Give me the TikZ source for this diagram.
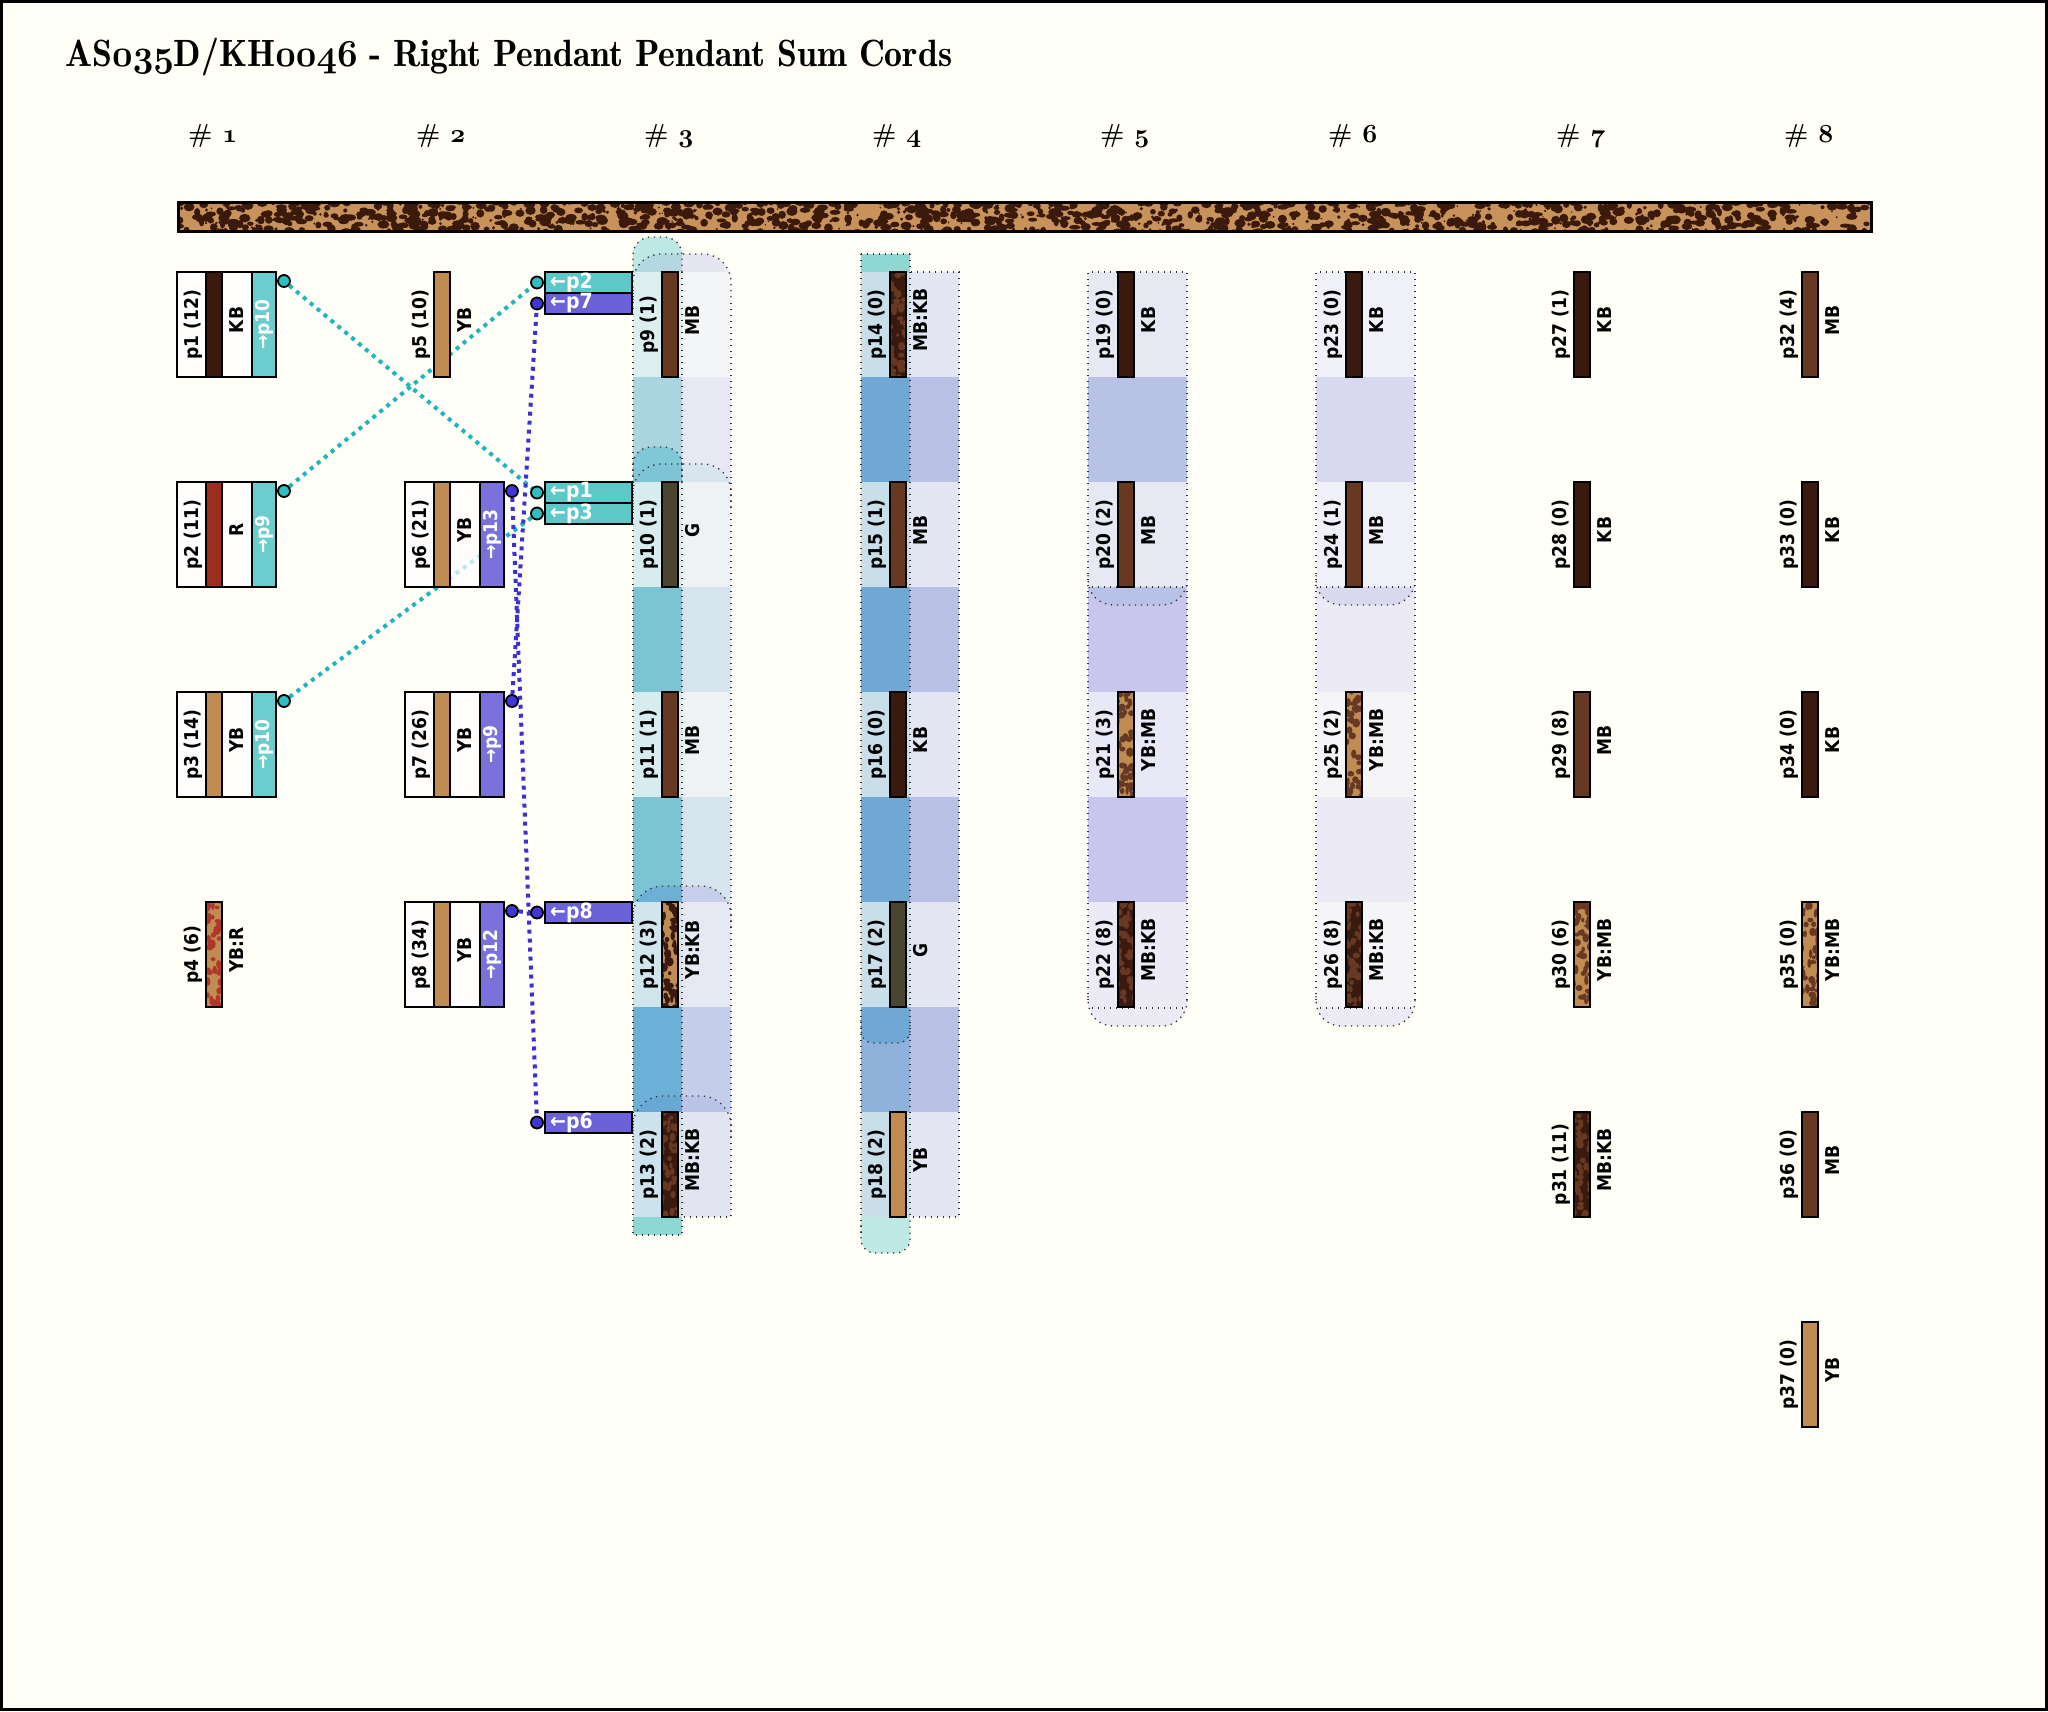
\documentclass[tikz,border=0pt]{standalone}
\usepackage{fontspec}
\usepackage{graphicx}
\newfontfamily\labfont{DejaVu Sans}[FakeStretch=0.9]
\newfontfamily\titlefont{lmromandemi10-regular.otf}
\DeclareFontFamily{OML}{osfm}{}
\DeclareFontShape{OML}{osfm}{m}{it}{<->cmmi10}{}
\DeclareFontShape{OML}{osfm}{b}{it}{<->cmmib10}{}
\newcommand\osn[1]{{\fontencoding{OML}\fontfamily{osfm}\fontseries{m}\fontshape{it}\selectfont #1}}
\newcommand\osb[1]{{\fontencoding{OML}\fontfamily{osfm}\fontseries{b}\fontshape{it}\selectfont #1}}
\pgfdeclarelayer{bg}
\pgfdeclarelayer{lines}
\pgfsetlayers{bg,lines,main}
\definecolor{bgc}{HTML}{FFFEF7}
\definecolor{KB}{HTML}{3A1A0F}
\definecolor{MB}{HTML}{673822}
\definecolor{YB}{HTML}{C08C52}
\definecolor{RR}{HTML}{9C2E20}
\definecolor{RS}{HTML}{B0362A}
\definecolor{GG}{HTML}{4A4530}
\definecolor{barbase}{HTML}{C8935A}
\definecolor{barspot}{HTML}{3C1A0B}
\definecolor{cyb}{HTML}{5CC8C8}
\definecolor{pub}{HTML}{6C62D8}
\definecolor{cyl}{HTML}{1FB5BE}
\definecolor{pul}{HTML}{3B2FD9}
\definecolor{cyd}{HTML}{2FBFC2}
\definecolor{pud}{HTML}{4035D5}
% column 3
\definecolor{c3L1}{HTML}{DDEEF0}\definecolor{c3R1}{HTML}{F4F5F6}
\definecolor{c3L2}{HTML}{D6ECEE}\definecolor{c3R2}{HTML}{EEF2F4}
\definecolor{c3L4}{HTML}{D0E6EC}\definecolor{c3R4}{HTML}{E6E8F4}
\definecolor{c3L5}{HTML}{CCE2EC}\definecolor{c3R5}{HTML}{E2E4F2}
\definecolor{c3gL1}{HTML}{AAD4E0}\definecolor{c3gR1}{HTML}{E8E8F4}
\definecolor{c3gL2}{HTML}{7CC4D4}\definecolor{c3gR2}{HTML}{D6E4EE}
\definecolor{c3gL4}{HTML}{6CB0D8}\definecolor{c3gR4}{HTML}{C4CEEA}
\definecolor{tealL}{HTML}{BDE8E4}\definecolor{tealD}{HTML}{8ED8D4}
\definecolor{c3capL1}{HTML}{B4D8E2}\definecolor{c3capR1}{HTML}{E6E6F2}
\definecolor{c3ncap2}{HTML}{80C8D8}
\definecolor{c3capL2}{HTML}{7EC4D6}\definecolor{c3capR2}{HTML}{D8E4EE}
\definecolor{c3capL4}{HTML}{6CB0D6}\definecolor{c3capR4}{HTML}{C6CEEC}
\definecolor{c3capL5}{HTML}{68A8D4}\definecolor{c3capR5}{HTML}{BAC4E8}
% column 4
\definecolor{c4L}{HTML}{C8DFEA}\definecolor{c4R}{HTML}{E4E6F4}
\definecolor{c4gL}{HTML}{6FA8D4}\definecolor{c4gR}{HTML}{B8C0E6}
\definecolor{c4gL4}{HTML}{8EB2DC}
% column 5
\definecolor{c5r1}{HTML}{E6E8F4}\definecolor{c5r3}{HTML}{E8E8F6}
\definecolor{c5r4}{HTML}{ECEAF7}\definecolor{c5g1}{HTML}{B8C2E6}
\definecolor{c5g2}{HTML}{C8C6EC}\definecolor{c5cap1}{HTML}{B8C1E7}
% column 6
\definecolor{c6r1}{HTML}{F0F0F8}\definecolor{c6r3}{HTML}{F5F5F8}
\definecolor{c6g1}{HTML}{D8D8EE}\definecolor{c6g2}{HTML}{ECEAF5}

\tikzset{
  cord/.style={rectangle, draw=black, line width=2pt, minimum width=16pt,
    minimum height=105pt, inner sep=0pt, outer sep=0pt},
  lab/.style={font={\labfont\bfseries\fontsize{19}{22}\selectfont}, inner sep=0pt, rotate=90},
  gdot/.style={draw=black!80, line width=1.3pt, dash pattern=on 1.3pt off 4.7pt},
  cyanlink/.style={draw=cyl, line width=4pt, dash pattern=on 4pt off 5pt},
  purplelink/.style={draw=pul, line width=4pt, dash pattern=on 4pt off 5pt},
  enddot/.style={circle, draw=black, line width=1.8pt, minimum size=12pt, inner sep=0pt},
  recvst/.style={rectangle, draw=black, line width=2pt, minimum width=87pt,
    minimum height=21pt, inner sep=0pt},
  recvtext/.style={font={\labfont\bfseries\fontsize{21}{24}\selectfont}, text=white,
    inner sep=0pt, anchor=west},
  frame/.style={rectangle, draw=black, line width=2.5pt, minimum width=99pt,
    minimum height=105pt, inner sep=0pt, outer sep=0pt, fill=white, fill opacity=0.7},
  hdr/.style={anchor=base west, inner sep=0pt, font={\bfseries\fontsize{26}{28}\selectfont}}
}

% plain pendant: name, cx, top, colour, label, colour label
\newcommand\pend[6]{%
  \node[cord, fill=#4] (#1) at (#2,{#3+52.5}) {};
  \node[lab] (#1l) at ({#2-21},{#3+52.5}) {#5};
  \node[lab] (#1c) at ({#2+23},{#3+48}) {#6};
}
% mottled pendant: name, cx, top, base, spot, seed, label, colour label
\newcommand\mpend[8]{%
  \node[cord, fill=#4, draw=none] (#1) at (#2,{#3+52.5}) {};
  \begin{scope}
    \clip ({#2-8},#3) rectangle ({#2+8},{#3+105});
    \pgfmathsetseed{#6}
    \foreach \i in {1,...,50}{
      \fill[#5] ({#2-10+20*rnd},{#3-2+109*rnd}) ellipse ({1.6+2.4*rnd} and {1.8+3*rnd});
    }
  \end{scope}
  \draw[line width=2pt] ({#2-8},#3) rectangle ({#2+8},{#3+105});
  \node[lab] (#1l) at ({#2-21},{#3+52.5}) {#7};
  \node[lab] (#1c) at ({#2+23},{#3+48}) {#8};
}
% pendant with sum box: name, cx, top, cord colour, label, colour label, box colour, sum text, dot colour
\newcommand\sumbox[9]{%
  \node[frame] (#1box) at ({#2+12.5},{#3+52.5}) {};
  \fill[#7, fill opacity=0.9] ({#2+38},#3) rectangle ({#2+62},{#3+105});
  \node[cord, fill=#4] (#1) at (#2,{#3+52.5}) {};
  \draw[line width=2pt] ({#2+38},#3) -- ({#2+38},{#3+105});
  \draw[line width=2.5pt] (#1box.south west) rectangle (#1box.north east);
  \node[lab] (#1l) at ({#2-21},{#3+52.5}) {#5};
  \node[lab] (#1c) at ({#2+23},{#3+48}) {#6};
  \node[lab, text=white] (#1s) at ({#2+50},{#3+52.5}) {#8};
  \node[enddot, fill=#9] (#1d) at ({#2+70},{#3+9}) {};
}
% receiving box: name, y centre, colour, text, dot colour
\newcommand\recvbox[5]{%
  \node[recvst, fill=#3] (#1) at (588.5,#2) {};
  \node[recvtext] (#1t) at (550,#2) {#4};
  \node[enddot, fill=#5] (#1d) at (537,#2) {};
}

\begin{document}
\begin{tikzpicture}[x=1pt,y=-1pt]
\useasboundingbox (0,0) rectangle (2048,1711);

\begin{pgfonlayer}{bg}
\fill[bgc] (0,0) rectangle (2048,1711);

% ---------- column 3 ----------
\fill[c3gL1] (633,377) rectangle (682,482); \fill[c3gR1] (682,377) rectangle (731,482);
\fill[c3gL2] (633,587) rectangle (682,692); \fill[c3gR2] (682,587) rectangle (731,692);
\fill[c3gL2] (633,797) rectangle (682,902); \fill[c3gR2] (682,797) rectangle (731,902);
\fill[c3gL4] (633,1007) rectangle (682,1112); \fill[c3gR4] (682,1007) rectangle (731,1112);
\fill[tealL, rounded corners=18pt] (633,280) -- (633,237) -- (682,237) -- (682,280);
\begin{scope}
  \clip[rounded corners=28pt] (633,300) -- (633,254) -- (731,254) -- (731,300);
  \fill[c3capL1] (633,250) rectangle (682,300); \fill[c3capR1] (682,250) rectangle (731,300);
\end{scope}
\fill[c3ncap2, rounded corners=18pt] (633,490) -- (633,447) -- (682,447) -- (682,490);
\begin{scope}
  \clip[rounded corners=28pt] (633,510) -- (633,464) -- (731,464) -- (731,510);
  \fill[c3capL2] (633,460) rectangle (682,510); \fill[c3capR2] (682,460) rectangle (731,510);
\end{scope}
\begin{scope}
  \clip[rounded corners=30pt] (633,930) -- (633,886) -- (731,886) -- (731,930);
  \fill[c3capL4] (633,880) rectangle (682,930); \fill[c3capR4] (682,880) rectangle (731,930);
\end{scope}
\begin{scope}
  \clip[rounded corners=30pt] (633,1140) -- (633,1096) -- (731,1096) -- (731,1140);
  \fill[c3capL5] (633,1090) rectangle (682,1140); \fill[c3capR5] (682,1090) rectangle (731,1140);
\end{scope}
\fill[tealD] (633,1217) rectangle (682,1235);
\fill[c3L1] (633,272) rectangle (682,377); \fill[c3R1] (682,272) rectangle (731,377);
\fill[c3L2] (633,482) rectangle (682,587); \fill[c3R2] (682,482) rectangle (731,587);
\fill[c3L2] (633,692) rectangle (682,797); \fill[c3R2] (682,692) rectangle (731,797);
\fill[c3L4] (633,902) rectangle (682,1007); \fill[c3R4] (682,902) rectangle (731,1007);
\fill[c3L5] (633,1112) rectangle (682,1217); \fill[c3R5] (682,1112) rectangle (731,1217);
\draw[gdot, rounded corners=18pt] (633,272) -- (633,237) -- (682,237) -- (682,272);
\draw[gdot, rounded corners=28pt] (633,300) -- (633,254) -- (731,254) -- (731,300);
\draw[gdot, rounded corners=18pt] (633,482) -- (633,447) -- (682,447) -- (682,482);
\draw[gdot, rounded corners=28pt] (633,510) -- (633,464) -- (731,464) -- (731,510);
\draw[gdot, rounded corners=30pt] (633,930) -- (633,886) -- (731,886) -- (731,930);
\draw[gdot, rounded corners=30pt] (633,1140) -- (633,1096) -- (731,1096) -- (731,1140);
\draw[gdot] (633,290) -- (633,1235) -- (682,1235) -- (682,1217) -- (731,1217) -- (731,300);
\draw[gdot] (682,272) -- (682,1217);

% ---------- column 4 ----------
\foreach \g in {377,587,797}{
  \fill[c4gL] (861,\g) rectangle (910,\g+105); \fill[c4gR] (910,\g) rectangle (959,\g+105);
}
\fill[c4gL4] (861,1007) rectangle (910,1112); \fill[c4gR] (910,1007) rectangle (959,1112);
\fill[c4gL, rounded corners=12pt] (861,1000) -- (861,1043) -- (910,1043) -- (910,1000);
\fill[tealD] (861,254) rectangle (910,272);
\fill[tealL, rounded corners=14pt] (861,1200) -- (861,1253) -- (910,1253) -- (910,1200);
\foreach \t in {272,482,692,902,1112}{
  \fill[c4L] (861,\t) rectangle (910,\t+105); \fill[c4R] (910,\t) rectangle (959,\t+105);
}
\draw[gdot] (861,254) -- (910,254);
\draw[gdot] (861,254) -- (861,1235);
\draw[gdot] (910,254) -- (910,1217) -- (959,1217) -- (959,272) -- (910,272);
\draw[gdot, rounded corners=14pt] (861,1225) -- (861,1253) -- (910,1253) -- (910,1217);
\draw[gdot, rounded corners=12pt] (861,1020) -- (861,1043) -- (910,1043) -- (910,1020);

% ---------- column 5 ----------
\fill[c5g1] (1088,377) rectangle (1187,482);
\fill[c5g2] (1088,587) rectangle (1187,692);
\fill[c5g2] (1088,797) rectangle (1187,902);
\fill[c5cap1, rounded corners=25pt] (1088,560) -- (1088,605) -- (1187,605) -- (1187,560);
\fill[c5r4, rounded corners=25pt] (1088,980) -- (1088,1026) -- (1187,1026) -- (1187,980);
\fill[c5r1] (1088,272) rectangle (1187,377);
\fill[c5r1] (1088,482) rectangle (1187,587);
\fill[c5r3] (1088,692) rectangle (1187,797);
\fill[c5r4] (1088,902) rectangle (1187,1008);
\draw[gdot] (1088,1000) -- (1088,272) -- (1187,272) -- (1187,1000);
\draw[gdot, rounded corners=25pt] (1088,575) -- (1088,605) -- (1187,605) -- (1187,575);
\draw[gdot, rounded corners=25pt] (1088,996) -- (1088,1026) -- (1187,1026) -- (1187,996);
\draw[gdot] (1092,587) -- (1183,587);
\draw[gdot] (1092,1008) -- (1183,1008);

% ---------- column 6 ----------
\fill[c6g1] (1316,377) rectangle (1415,482);
\fill[c6g2] (1316,587) rectangle (1415,692);
\fill[c6g2] (1316,797) rectangle (1415,902);
\fill[c6g1, rounded corners=25pt] (1316,560) -- (1316,605) -- (1415,605) -- (1415,560);
\fill[c6g2, rounded corners=25pt] (1316,980) -- (1316,1026) -- (1415,1026) -- (1415,980);
\fill[c6r1] (1316,272) rectangle (1415,377);
\fill[c6r1] (1316,482) rectangle (1415,587);
\fill[c6r3] (1316,692) rectangle (1415,797);
\fill[c6r3] (1316,902) rectangle (1415,1008);
\draw[gdot] (1316,1000) -- (1316,272) -- (1415,272) -- (1415,1000);
\draw[gdot, rounded corners=25pt] (1316,575) -- (1316,605) -- (1415,605) -- (1415,575);
\draw[gdot, rounded corners=25pt] (1316,996) -- (1316,1026) -- (1415,1026) -- (1415,996);
\draw[gdot] (1320,587) -- (1411,587);
\draw[gdot] (1320,1008) -- (1411,1008);
\end{pgfonlayer}

% ---------- page frame ----------
\draw[line width=2.5pt] (1.5,1.5) rectangle (2046.5,1709.5);

% ---------- title and headers ----------
\node[anchor=base west, inner sep=0pt] (title) at (65,66)
  {\resizebox{887pt}{\height}{\titlefont\fontsize{38}{40}\selectfont AS\osb{035}D/KH\osb{0046} - Right Pendant Pendant Sum Cords}};
\foreach \i in {1,...,8}{
  \node[hdr] (h\i) at ({188+228*(\i-1)},142) {\# \osb{\i}};
}

% ---------- main cord ----------
\node[rectangle, fill=barbase, minimum width=1693pt, minimum height=29pt, inner sep=0pt, outer sep=0pt] (maincord) at (1024.5,216.5) {};
\begin{scope}
  \clip (178,202) rectangle (1871,231);
  \pgfmathsetseed{7}
  \foreach \i in {1,...,1000}{
    \fill[barspot] ({178+1693*rnd},{199+35*rnd}) ellipse ({2.5+3.5*rnd} and {2+2.5*rnd});
  }
  \foreach \i in {1,...,400}{
    \fill[barspot] ({178+1693*rnd},{202+29*rnd}) circle ({0.8+1.3*rnd});
  }
\end{scope}
\draw[line width=3pt] (maincord.south west) rectangle (maincord.north east);

% ---------- columns 1 and 2 ----------
\sumbox{p1}{214}{272}{KB}{p1 (12)}{KB}{cyb}{→p10}{cyd}
\sumbox{p2}{214}{482}{RR}{p2 (11)}{R}{cyb}{→p9}{cyd}
\sumbox{p3}{214}{692}{YB}{p3 (14)}{YB}{cyb}{→p10}{cyd}
\mpend{p4}{214}{902}{YB}{RS}{41}{p4 (6)}{YB:R}
\pend{p5}{442}{272}{YB}{p5 (10)}{YB}
\sumbox{p6}{442}{482}{YB}{p6 (21)}{YB}{pub}{→p13}{pud}
\sumbox{p7}{442}{692}{YB}{p7 (26)}{YB}{pub}{→p9}{pud}
\sumbox{p8}{442}{902}{YB}{p8 (34)}{YB}{pub}{→p12}{pud}

% ---------- receiving boxes ----------
\recvbox{rp2}{282.5}{cyb}{←p2}{cyd}
\recvbox{rp7}{303.5}{pub}{←p7}{pud}
\recvbox{rp1}{492.5}{cyb}{←p1}{cyd}
\recvbox{rp3}{513.5}{cyb}{←p3}{cyd}
\recvbox{rp8}{912.5}{pub}{←p8}{pud}
\recvbox{rp6}{1122.5}{pub}{←p6}{pud}

\begin{pgfonlayer}{lines}
\draw[cyanlink] (p1d) -- (rp1d);
\draw[cyanlink] (p2d) -- (rp2d);
\draw[cyanlink] (p3d) -- (rp3d);
\draw[purplelink] (p6d) -- (rp6d);
\draw[purplelink] (p7d) -- (rp7d);
\draw[purplelink] (p8d) -- (rp8d);
\end{pgfonlayer}

% ---------- column 3 ----------
\pend{p9}{670}{272}{MB}{p9 (1)}{MB}
\pend{p10}{670}{482}{GG}{p10 (1)}{G}
\pend{p11}{670}{692}{MB}{p11 (1)}{MB}
\mpend{p12}{670}{902}{YB}{KB}{12}{p12 (3)}{YB:KB}
\mpend{p13}{670}{1112}{KB}{MB}{13}{p13 (2)}{MB:KB}
% ---------- column 4 ----------
\mpend{p14}{898}{272}{KB}{MB}{14}{p14 (0)}{MB:KB}
\pend{p15}{898}{482}{MB}{p15 (1)}{MB}
\pend{p16}{898}{692}{KB}{p16 (0)}{KB}
\pend{p17}{898}{902}{GG}{p17 (2)}{G}
\pend{p18}{898}{1112}{YB}{p18 (2)}{YB}
% ---------- column 5 ----------
\pend{p19}{1126}{272}{KB}{p19 (0)}{KB}
\pend{p20}{1126}{482}{MB}{p20 (2)}{MB}
\mpend{p21}{1126}{692}{YB}{MB}{21}{p21 (3)}{YB:MB}
\mpend{p22}{1126}{902}{KB}{MB}{22}{p22 (8)}{MB:KB}
% ---------- column 6 ----------
\pend{p23}{1354}{272}{KB}{p23 (0)}{KB}
\pend{p24}{1354}{482}{MB}{p24 (1)}{MB}
\mpend{p25}{1354}{692}{YB}{MB}{25}{p25 (2)}{YB:MB}
\mpend{p26}{1354}{902}{KB}{MB}{26}{p26 (8)}{MB:KB}
% ---------- column 7 ----------
\pend{p27}{1582}{272}{KB}{p27 (1)}{KB}
\pend{p28}{1582}{482}{KB}{p28 (0)}{KB}
\pend{p29}{1582}{692}{MB}{p29 (8)}{MB}
\mpend{p30}{1582}{902}{YB}{MB}{30}{p30 (6)}{YB:MB}
\mpend{p31}{1582}{1112}{KB}{MB}{31}{p31 (11)}{MB:KB}
% ---------- column 8 ----------
\pend{p32}{1810}{272}{MB}{p32 (4)}{MB}
\pend{p33}{1810}{482}{KB}{p33 (0)}{KB}
\pend{p34}{1810}{692}{KB}{p34 (0)}{KB}
\mpend{p35}{1810}{902}{YB}{MB}{35}{p35 (0)}{YB:MB}
\pend{p36}{1810}{1112}{MB}{p36 (0)}{MB}
\pend{p37}{1810}{1322}{YB}{p37 (0)}{YB}
\end{tikzpicture}
\end{document}
